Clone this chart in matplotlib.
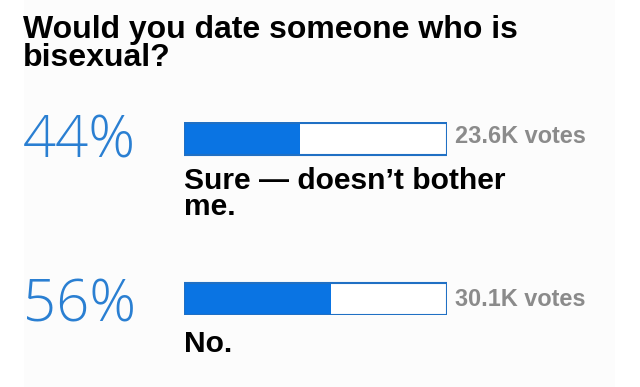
import matplotlib
matplotlib.use("Agg")
import matplotlib.pyplot as plt
from matplotlib.patches import Rectangle

# ---- data ----
title_lines = ["Would you date someone who is", "bisexual?"]
percents = [44, 56]
votes = ["23.6K votes", "30.1K votes"]
answers = [["Sure \u2014 doesn\u2019t bother", "me."], ["No."]]

W, H = 640, 387
fig = plt.figure(figsize=(W / 100, H / 100), dpi=100)
fig.patch.set_facecolor("white")

# pixel-coordinate canvas
bg = fig.add_axes([0, 0, 1, 1])
bg.set_xlim(0, W)
bg.set_ylim(H, 0)
bg.axis("off")
bg.add_patch(Rectangle((24, 0), 591, H, facecolor="#fcfcfc", edgecolor="none", zorder=0))

bold = dict(family=["Liberation Sans", "DejaVu Sans"], fontweight="bold")
PT = 72 / 100  # px -> pt

# title
for i, line in enumerate(title_lines):
    bg.text(23, 38 + 28 * i, line, fontsize=32 * PT, color="black", va="baseline", ha="left", **bold)

# bar axes (pixel rows 122..315, columns 184..447)
bar_top, bar_bot = 122, 315
bx = fig.add_axes([184 / W, (H - bar_bot) / H, 263 / W, (bar_bot - bar_top) / H])
bx.set_xlim(0, 100)
bx.set_ylim(bar_bot, bar_top)
bx.axis("off")
bx.patch.set_alpha(0)

row_y = [138.5, 298.5]
bar_h = 32
fill_c = "#0a74e3"
edge_c = "#2070c4"
bx.barh(row_y, [100] * len(percents), height=bar_h, color="white", edgecolor="none", zorder=1)
bx.barh(row_y, percents, height=bar_h, color=fill_c, edgecolor="none", zorder=2)
bx.barh(row_y, [100] * len(percents), height=bar_h, facecolor="none", edgecolor=edge_c, linewidth=1.5, zorder=3)

offsets = [0, 163]
for i, (p, v, ans) in enumerate(zip(percents, votes, answers)):
    dy = offsets[i]
    bg.text(23, 158 + dy, f"{p}%", fontsize=58 * PT, color="#2a7fd2", va="baseline", ha="left",
            family=["Open Sans", "DejaVu Sans"], fontweight="light")
    bg.text(455, 143 + dy, v, fontsize=23.5 * PT, color="#8b8b8b", va="baseline", ha="left", **bold)
    for j, line in enumerate(ans):
        bg.text(184, 189 + dy + 26 * j, line, fontsize=30 * PT, color="black", va="baseline", ha="left", **bold)

fig.savefig("out.png", dpi=100, facecolor="white")
